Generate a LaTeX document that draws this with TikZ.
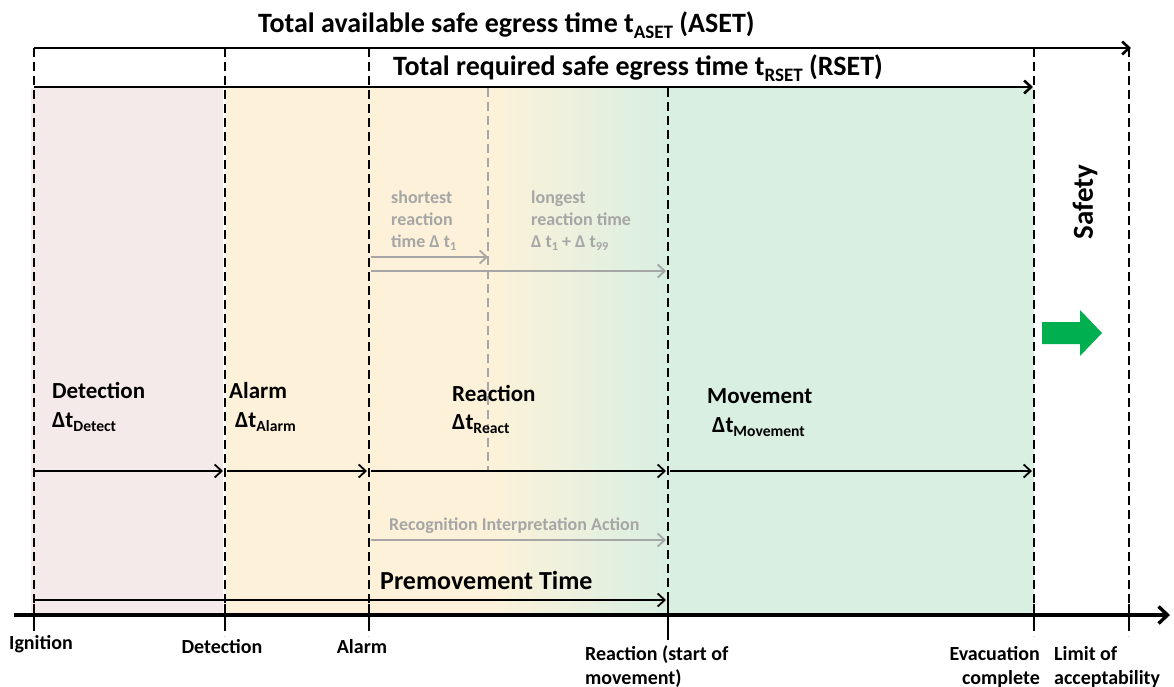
\documentclass[tikz,border=0pt]{standalone}
\usepackage{fontspec}
\usepackage{graphicx}
\setmainfont{Carlito}
\usetikzlibrary{arrows.meta}

\definecolor{pinkbg}{HTML}{F5EAEA}
\definecolor{yelbg}{HTML}{FDF2D9}
\definecolor{grnbg}{HTML}{D9EFE2}
\definecolor{greyink}{HTML}{A6A6A6}
\definecolor{safegreen}{HTML}{00B050}

% lowered, reduced subscript in the running text font
\newcommand\lowsub[1]{\raisebox{-0.2em}{\scalebox{0.68}{#1}}}

\begin{document}
\begin{tikzpicture}[x=1pt,y=-1pt,
  every node/.style={inner sep=0pt, font=\bfseries},
  marker/.style={line width=1.8pt, dash pattern=on 9pt off 5pt},
  softmarker/.style={line width=1.8pt, greyink, dash pattern=on 9pt off 5pt},
  tick/.style={line width=1.8pt},
  barb/.style={-{Straight Barb[length=7pt,width=13pt]}},
  span/.style={barb, line width=2.6pt},
  phase/.style={barb, line width=1.8pt},
  soft/.style={barb, line width=1.8pt, greyink},
  axis/.style={-{Straight Barb[length=9pt,width=17pt]}, line width=3.4pt},
  titletext/.style={font=\fontsize{28}{33}\selectfont\bfseries},
  phasetext/.style={font=\fontsize{23}{28}\selectfont\bfseries},
  softtext/.style={font=\fontsize{18}{22}\selectfont\bfseries, text=greyink, align=left},
  eventtext/.style={font=\fontsize{20}{23.5}\selectfont\bfseries},
]
\useasboundingbox (0,0) rectangle (1174,687);

% ---- background bands of the phases
\fill[pinkbg] (31,88) rectangle (223,613);
\fill[yelbg] (226,88) rectangle (488,613);
\shade[left color=yelbg, right color=grnbg] (488,88) rectangle (668,613);
\fill[grnbg] (668,88) rectangle (1034,613);

% ---- event markers (top and bottom ends)
\coordinate (igT) at (34,48);   \coordinate (igB) at (34,636);
\coordinate (deT) at (225,48);  \coordinate (deB) at (225,636);
\coordinate (alT) at (369,48);  \coordinate (alB) at (369,636);
\coordinate (grT) at (488,88);  \coordinate (grB) at (488,470);
\coordinate (reT) at (668,88);  \coordinate (reB) at (668,636);
\coordinate (evT) at (1034,48); \coordinate (evB) at (1034,636);
\coordinate (liT) at (1129,48); \coordinate (liB) at (1129,636);

\foreach \e in {ig,de,al,re,ev,li}
  \draw[marker] (\e T) -- (\e B);
\draw[softmarker] (grT) -- (grB);

% solid ticks on the time axis
\foreach \e/\x in {ig/34,de/225,al/369,re/668,ev/1034,li/1129}{
  \coordinate (\e tU) at (\x,604);
  \coordinate (\e tD) at (\x,624);
  \draw[tick] (\e tU) -- (\e tD);
}
\coordinate (reLU) at (668,600);
\coordinate (reLD) at (668,640);
\draw[tick] (reLU) -- (reLD);

% ---- ASET / RSET spans
\coordinate (asetEnd) at (1131,48);
\coordinate (rsetS) at (34,87);
\coordinate (rsetE) at (1033,87);
\draw[span] (igT) -- (asetEnd);
\draw[span] (rsetS) -- (rsetE);
\node[titletext, anchor=base west] (aset) at (258,33)
  {Total available safe egress time t\lowsub{ASET} (ASET)};
\node[titletext, anchor=base west] (rset) at (393,76)
  {Total required safe egress time t\lowsub{RSET} (RSET)};

% ---- phase arrows
\coordinate (p0) at (34,471);  \coordinate (p1) at (223,471);
\coordinate (p2) at (227,471); \coordinate (p3) at (367,471);
\coordinate (p4) at (371,471); \coordinate (p5) at (666,471);
\coordinate (p6) at (670,471); \coordinate (p7) at (1032,471);
\draw[phase] (p0) -- (p1);
\draw[phase] (p2) -- (p3);
\draw[phase] (p4) -- (p5);
\draw[phase] (p6) -- (p7);

% ---- phase labels
\node[phasetext, anchor=base west] (tDetect) at (52,398) {Detection};
\node[phasetext, anchor=base west] (dDetect) at (52,427) {Δt\lowsub{Detect}};
\node[phasetext, anchor=base west] (tAlarm) at (229,398) {Alarm};
\node[phasetext, anchor=base west] (dAlarm) at (235,427) {Δt\lowsub{Alarm}};
\node[phasetext, anchor=base west] (tReact) at (452,401) {Reaction};
\node[phasetext, anchor=base west] (dReact) at (452,429) {Δt\lowsub{React}};
\node[phasetext, anchor=base west] (tMove) at (707,403) {Movement};
\node[phasetext, anchor=base west] (dMove) at (712,432) {Δt\lowsub{Movement}};

% ---- reaction time spread
\node[softtext, anchor=base west] (short1) at (391,203) {shortest};
\node[softtext, anchor=base west] (short2) at (391,225) {reaction};
\node[softtext, anchor=base west] (short3) at (391,247) {time Δ t\lowsub{1}};
\node[softtext, anchor=base west] (long1) at (531,203) {longest};
\node[softtext, anchor=base west] (long2) at (531,225) {reaction time};
\node[softtext, anchor=base west] (long3) at (531,247) {Δ t\lowsub{1} + Δ t\lowsub{99}};
\coordinate (sS) at (371,257); \coordinate (sE) at (488,257);
\coordinate (lS) at (371,271); \coordinate (lE) at (666,271);
\draw[soft] (sS) -- (sE);
\draw[soft] (lS) -- (lE);

\node[softtext, anchor=base west] (ria) at (389,530) {Recognition Interpretation Action};
\coordinate (rS) at (371,540); \coordinate (rE) at (666,540);
\draw[soft] (rS) -- (rE);

% ---- premovement
\node[font=\fontsize{26}{30}\selectfont\bfseries, anchor=base west] (pre) at (380,589) {Premovement Time};
\coordinate (pmS) at (34,600); \coordinate (pmE) at (666,600);
\draw[phase] (pmS) -- (pmE);

% ---- time axis
\coordinate (axS) at (14,615); \coordinate (axE) at (1170,615);
\draw[axis] (axS) -- (axE);

% ---- safety margin
\node[font=\fontsize{29}{34}\selectfont\bfseries, rotate=90] (safety) at (1085,202) {Safety};
\fill[safegreen] (1042,322) -- (1080,322) -- (1080,310) -- (1102,333)
  -- (1080,356) -- (1080,344) -- (1042,344) -- cycle;

% ---- event names (two-line labels are placed by their last baseline)
\node[eventtext, anchor=base] (eIgn) at (41,649) {Ignition};
\node[eventtext, anchor=base] (eDet) at (222,653) {Detection};
\node[eventtext, anchor=base] (eAl) at (362,653) {Alarm};
\node[eventtext, anchor=base west, align=left] (eRe) at (585,684) {Reaction (start of\\movement)};
\node[eventtext, anchor=base east, align=right] (eEv) at (1040,684) {Evacuation\\complete};
\node[eventtext, anchor=base west, align=left] (eLi) at (1054,684) {Limit of\\acceptability};
\end{tikzpicture}
\end{document}
